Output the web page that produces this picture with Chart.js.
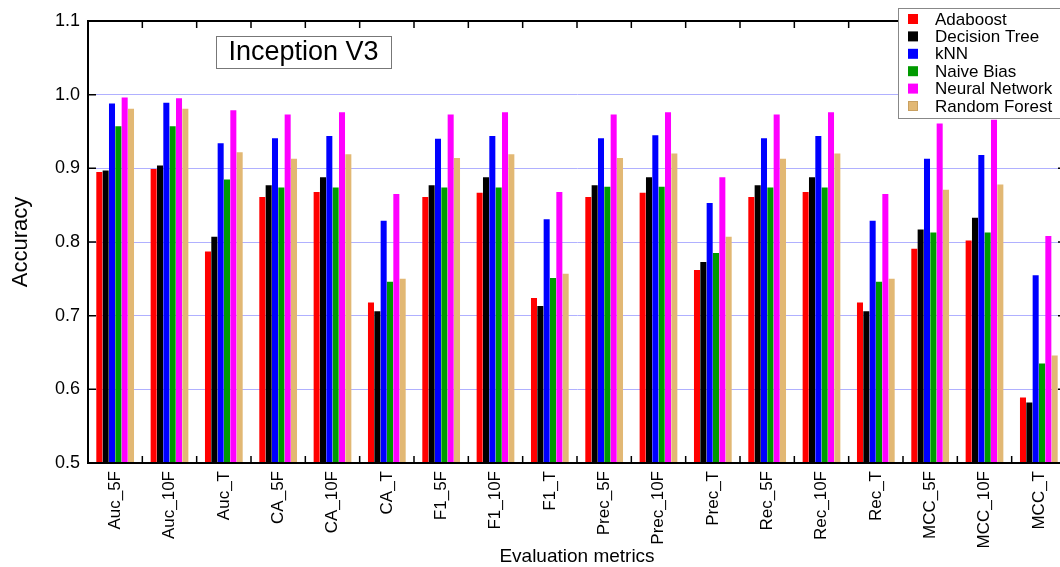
<!DOCTYPE html>
<html>
<head>
<meta charset="utf-8">
<script src="https://cdn.jsdelivr.net/npm/chart.js@4.4.0/dist/chart.umd.min.js"></script>
<style>
html,body{margin:0;padding:0;overflow:hidden;background:#fff;width:1060px;height:567px;}
canvas{display:block;}
</style>
</head>
<body>
<canvas id="c" width="1070" height="567"></canvas>
<script>
const categories = ["Auc_5F","Auc_10F","Auc_T","CA_5F","CA_10F","CA_T","F1_5F","F1_10F","F1_T","Prec_5F","Prec_10F","Prec_T","Rec_5F","Rec_10F","Rec_T","MCC_5F","MCC_10F","MCC_T"];
const seriesNames = ["Adaboost","Decision Tree","kNN","Naive Bias","Neural Network","Random Forest"];
const adaboost      = [0.895,0.899,0.787,0.861,0.868,0.718,0.861,0.867,0.724,0.861,0.867,0.762,0.861,0.868,0.718,0.791,0.802,0.589];
const decisionTree  = [0.897,0.904,0.807,0.877,0.888,0.706,0.877,0.888,0.713,0.877,0.888,0.773,0.877,0.888,0.706,0.817,0.833,0.582];
const knn           = [0.988,0.989,0.934,0.941,0.944,0.829,0.940,0.944,0.831,0.941,0.945,0.853,0.941,0.944,0.829,0.913,0.918,0.755];
const naiveBias     = [0.957,0.957,0.885,0.874,0.874,0.746,0.874,0.874,0.751,0.875,0.875,0.785,0.874,0.874,0.746,0.813,0.813,0.635];
const neuralNetwork = [0.996,0.995,0.979,0.973,0.976,0.865,0.973,0.976,0.868,0.973,0.976,0.888,0.973,0.976,0.865,0.961,0.966,0.808];
const randomForest  = [0.981,0.981,0.922,0.913,0.919,0.750,0.914,0.919,0.757,0.914,0.920,0.807,0.913,0.920,0.750,0.871,0.878,0.646];
const yTicks = [0.5,0.6,0.7,0.8,0.9,1.0,1.1];
const colors = ["#ff0000","#000000","#0000ff","#009a00","#ff00ff","#e2b874"];
const seriesValues = [adaboost,decisionTree,knn,naiveBias,neuralNetwork,randomForest];

const FONT = "'Liberation Sans', Arial, Helvetica, sans-serif";

const decor = {
  id:'decor',
  afterDraw(chart){
    const ctx = chart.ctx, a = chart.chartArea, xs = chart.scales.x, ys = chart.scales.y;
    ctx.save();
    // frame
    ctx.strokeStyle = '#000'; ctx.lineWidth = 2;
    ctx.strokeRect(a.left, a.top, a.right - a.left, a.bottom - a.top);
    // inward ticks
    ctx.lineWidth = 1.5;
    ctx.beginPath();
    yTicks.forEach(v => {
      const y = ys.getPixelForValue(v);
      ctx.moveTo(a.left, y); ctx.lineTo(a.left + 8, y);
      ctx.moveTo(a.right, y); ctx.lineTo(a.right - 8, y);
    });
    const half = (xs.getPixelForValue(1) - xs.getPixelForValue(0)) / 2;
    for (let i = 0; i < categories.length - 1; i++) {
      const x = xs.getPixelForValue(i) + half;
      ctx.moveTo(x, a.bottom); ctx.lineTo(x, a.bottom - 7);
      ctx.moveTo(x, a.top); ctx.lineTo(x, a.top + 7);
    }
    ctx.stroke();

    // title box
    ctx.fillStyle = '#fff';
    ctx.fillRect(216, 36, 175, 32);
    ctx.strokeStyle = '#777'; ctx.lineWidth = 1;
    ctx.strokeRect(216.5, 36.5, 175, 32);
    ctx.fillStyle = '#000';
    ctx.font = '27px ' + FONT;
    ctx.textAlign = 'center'; ctx.textBaseline = 'middle';
    ctx.fillText('Inception V3', 303.5, 53);

    // legend
    ctx.fillStyle = '#fff';
    ctx.fillRect(898, 8, 180, 110);
    ctx.strokeStyle = '#888';
    ctx.strokeRect(898.5, 8.5, 180, 110);
    ctx.font = '17px ' + FONT;
    ctx.textAlign = 'left'; ctx.textBaseline = 'middle';
    chart.data.datasets.forEach((ds, i) => {
      const cy = 19 + i * 17.4;
      ctx.fillStyle = ds.backgroundColor;
      ctx.fillRect(908, cy - 5, 10, 10);
      if (i === 5) { ctx.strokeStyle = '#c9a060'; ctx.strokeRect(908.5, cy - 4.5, 9, 9); }
      ctx.fillStyle = '#000';
      ctx.fillText(ds.label, 935, cy + 1);
    });
    ctx.restore();
  }
};

new Chart(document.getElementById('c'), {
  type: 'bar',
  data: {
    labels: categories,
    datasets: seriesNames.map((n, i) => ({
      label: n,
      data: seriesValues[i],
      backgroundColor: colors[i],
      borderWidth: 0,
      categoryPercentage: 0.7,
      barPercentage: 0.95
    }))
  },
  options: {
    responsive: false,
    devicePixelRatio: 1,
    animation: false,
    layout: { padding: { top: 21, right: 4, left: 0, bottom: 0 } },
    plugins: { legend: { display: false }, tooltip: { enabled: false }, title: { display: false } },
    scales: {
      x: {
        grid: { display: false, drawTicks: false },
        border: { display: true, color: '#000', width: 2 },
        ticks: { color: '#000', font: { family: FONT, size: 17 }, maxRotation: 90, minRotation: 90, padding: 8, autoSkip: false },
        title: { display: true, text: 'Evaluation metrics', color: '#000', font: { family: FONT, size: 19 }, padding: { top: 0, bottom: -1 } },
        afterFit(s) { s.height = 104; }
      },
      y: {
        min: 0.5, max: 1.1,
        afterBuildTicks(s) { s.ticks = yTicks.map(v => ({ value: v })); },
        grid: {
          drawTicks: false,
          color: c => (c.tick && (Math.abs(c.tick.value - 0.5) < 1e-6 || Math.abs(c.tick.value - 1.1) < 1e-6)) ? 'rgba(0,0,0,0)' : '#b0b0ff',
          lineWidth: 1
        },
        border: { display: true, color: '#000', width: 2 },
        ticks: { color: '#000', font: { family: FONT, size: 18 }, padding: 8, callback: v => Number(v).toFixed(1) },
        title: { display: true, text: 'Accuracy', color: '#000', font: { family: FONT, size: 22 }, padding: { top: 8, bottom: 0 } },
        afterFit(s) { s.width = 88; }
      }
    }
  },
  plugins: [decor]
});
</script>
</body>
</html>
